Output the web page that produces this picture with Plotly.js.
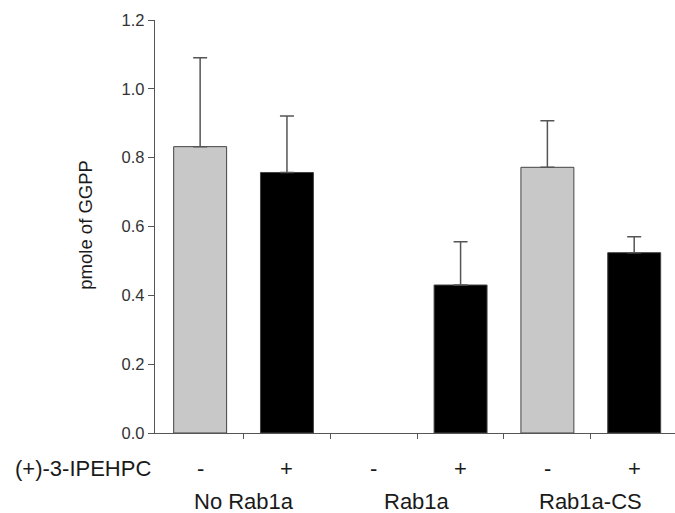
<!DOCTYPE html>
<html>
<head>
<meta charset="utf-8">
<script src="https://cdn.plot.ly/plotly-3.0.1.min.js"></script>
<style>html,body{margin:0;padding:0;background:#fff;}#chart{width:675px;height:513px;}</style>
</head>
<body>
<div id="chart"></div>
<script>
// Data
const groups = ["No Rab1a", "Rab1a", "Rab1a-CS"];
const treatments = ["-", "+", "-", "+", "-", "+"];
const values = [0.832, 0.757, null, 0.430, 0.772, 0.524];
const errorsUp = [0.258, 0.164, null, 0.126, 0.135, 0.046];
const barColors = ["#c8c8c8", "#000000", "#c8c8c8", "#000000", "#c8c8c8", "#000000"];
const treatmentLabel = "(+)-3-IPEHPC";
const yTitle = "pmole of GGPP";

const xs = treatments.map((_, i) => i);
const FONT = "Liberation Sans, Arial, sans-serif";

const trace = {
  type: "bar",
  x: xs,
  y: values,
  width: 0.61,
  marker: {color: barColors, line: {color: "#444", width: 1}},
  error_y: {
    type: "data", symmetric: false,
    array: errorsUp,
    arrayminus: errorsUp.map(() => 0),
    color: "#555", thickness: 1.5, width: 7
  },
  hoverinfo: "none",
  showlegend: false
};

const annotations = [];
treatments.forEach((t, i) => {
  annotations.push({x: i, xref: "x", y: -0.087, yref: "paper", text: t, showarrow: false,
    xanchor: "center", yanchor: "middle", font: {family: FONT, size: 22, color: "#1a1a1a"}});
});
groups.forEach((g, k) => {
  annotations.push({x: 2 * k + 0.5, xref: "x", y: -0.167, yref: "paper", text: g, showarrow: false,
    xanchor: "center", yanchor: "middle", font: {family: FONT, size: 22, color: "#1a1a1a"}});
});
annotations.push({x: -0.004, xref: "paper", y: -0.087, yref: "paper", text: treatmentLabel, showarrow: false,
  xanchor: "right", yanchor: "middle", font: {family: FONT, size: 22, color: "#1a1a1a"}});
annotations.push({x: -0.133, xref: "paper", y: 0.504, yref: "paper", text: yTitle, showarrow: false,
  textangle: -90, xanchor: "center", yanchor: "middle", font: {family: FONT, size: 18.5, color: "#1a1a1a"}});

const layout = {
  width: 675, height: 513,
  margin: {l: 155, r: 0, t: 20, b: 80},
  paper_bgcolor: "#fff", plot_bgcolor: "#fff",
  bargap: 0,
  xaxis: {
    range: [-0.52, 5.47],
    tickmode: "array", tickvals: [0.5, 1.5, 2.5, 3.5, 4.5], ticktext: ["", "", "", "", ""],
    ticks: "outside", ticklen: 5, tickcolor: "#555", tickwidth: 1,
    showline: true, linecolor: "#555", linewidth: 1.2,
    showgrid: false, zeroline: false, fixedrange: true
  },
  yaxis: {
    range: [0, 1.2], dtick: 0.2, tick0: 0, tickformat: ".1f",
    ticks: "outside", ticklen: 6, tickcolor: "#555", tickwidth: 1,
    showline: true, linecolor: "#555", linewidth: 1.2,
    showgrid: false, zeroline: false,
    tickfont: {family: FONT, size: 16.5, color: "#333"},
    fixedrange: true
  },
  annotations: annotations
};

Plotly.newPlot("chart", [trace], layout, {displayModeBar: false, staticPlot: true});
</script>
</body>
</html>
